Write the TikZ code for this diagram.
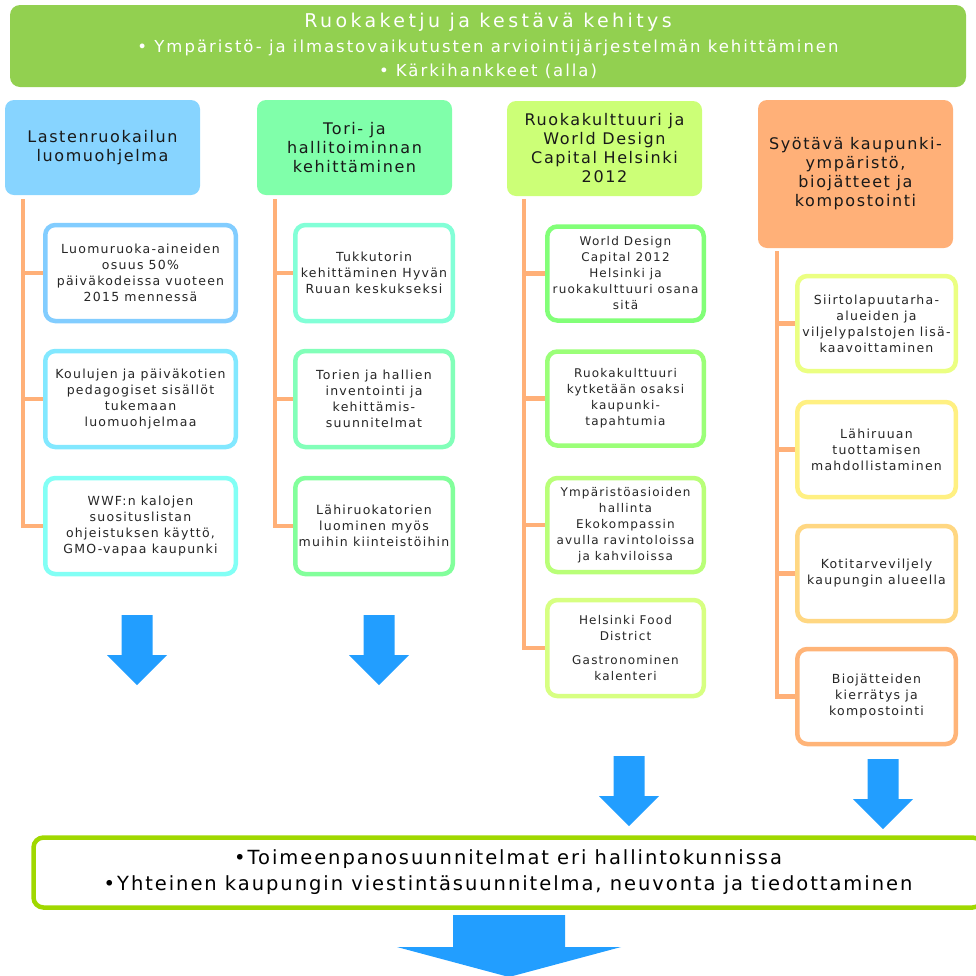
\documentclass[tikz,border=0pt]{standalone}
\usepackage{fontspec}
\setmainfont{DejaVu Sans}[LetterSpace=10]

\definecolor{topgreen}{RGB}{146,208,80}
\definecolor{headblue}{RGB}{135,212,255}
\definecolor{headmint}{RGB}{128,255,170}
\definecolor{headlime}{RGB}{204,255,119}
\definecolor{headorange}{RGB}{255,176,120}
\definecolor{lineorange}{RGB}{255,176,120}
\definecolor{arrowblue}{RGB}{34,158,255}
\definecolor{planlime}{RGB}{160,216,0}
\definecolor{c1a}{RGB}{130,205,255}
\definecolor{c1b}{RGB}{130,232,255}
\definecolor{c1c}{RGB}{130,255,245}
\definecolor{c2a}{RGB}{130,255,215}
\definecolor{c2b}{RGB}{130,255,185}
\definecolor{c2c}{RGB}{130,255,155}
\definecolor{c3a}{RGB}{130,255,120}
\definecolor{c3b}{RGB}{155,255,120}
\definecolor{c3c}{RGB}{185,255,120}
\definecolor{c3d}{RGB}{215,255,130}
\definecolor{c4a}{RGB}{235,255,130}
\definecolor{c4b}{RGB}{255,240,130}
\definecolor{c4c}{RGB}{255,215,130}
\definecolor{c4d}{RGB}{255,180,120}

\tikzset{
  head/.style={fill=#1, rounded corners=9pt, minimum width=195pt, inner sep=2pt,
    align=center, text=black!90, font=\fontsize{16}{19}\selectfont},
  item/.style={draw=#1, line width=4.5pt, fill=white, rounded corners=10pt, inner sep=2pt,
    align=center, text=black!85, font=\fontsize{12.5}{16}\selectfont},
  conn/.style={draw=lineorange, line width=4.5pt}
}

\begin{document}
\begin{tikzpicture}[x=1pt,y=-1pt]
\path[use as bounding box] (0,0) rectangle (976,975);
\clip (0,0) rectangle (976,975);

\node[fill=topgreen, rounded corners=10pt, minimum width=956pt, minimum height=82pt,
  text=white, align=center, font=\fontsize{16.5}{24.5}\selectfont] (top) at (488,46)
{{\fontsize{19}{24.5}\selectfont\addfontfeatures{LetterSpace=18}Ruokaketju ja kestävä kehitys}\\
{\addfontfeatures{LetterSpace=12}• Ympäristö- ja ilmastovaikutusten arviointijärjestelmän kehittäminen}\\
{\addfontfeatures{LetterSpace=12}• Kärkihankkeet (alla)}};

% headers
\node[head=headblue, minimum height=95pt] (h1) at (102.5,147.5) {Lastenruokailun\\luomuohjelma};
\node[head=headmint, minimum height=95pt] (h2) at (354.5,147.5) {Tori- ja\\hallitoiminnan\\kehittäminen};
\node[head=headlime, minimum height=95pt] (h3) at (604.5,148.5) {Ruokakulttuuri ja\\World Design\\Capital Helsinki\\2012};
\node[head=headorange, minimum height=148pt] (h4) at (855.5,174) {Syötävä kaupunki-\\ympäristö,\\biojätteet ja\\kompostointi};

% column 1
\node[item=c1a, minimum width=190.5pt, minimum height=96pt] (i11) at (140.5,273) {Luomuruoka-aineiden\\osuus 50\%\\päiväkodeissa vuoteen\\2015 mennessä};
\node[item=c1b, minimum width=190.5pt, minimum height=96pt] (i12) at (140.5,399) {Koulujen ja päiväkotien\\pedagogiset sisällöt\\tukemaan\\luomuohjelmaa};
\node[item=c1c, minimum width=190.5pt, minimum height=96pt] (i13) at (140.5,526) {WWF:n kalojen\\suosituslistan\\ohjeistuksen käyttö,\\GMO-vapaa kaupunki};

% column 2
\node[item=c2a, minimum width=157.5pt, minimum height=96pt] (i21) at (374,273) {Tukkutorin\\kehittäminen Hyvän\\Ruuan keskukseksi};
\node[item=c2b, minimum width=157.5pt, minimum height=96pt] (i22) at (374,399) {Torien ja hallien\\inventointi ja\\kehittämis-\\suunnitelmat};
\node[item=c2c, minimum width=157.5pt, minimum height=96pt] (i23) at (374,526) {Lähiruokatorien\\luominen myös\\muihin kiinteistöihin};

% column 3
\node[item=c3a, minimum width=156.5pt, minimum height=94pt, font=\fontsize{12}{16}\selectfont] (i31) at (625.5,273.5) {World Design\\Capital 2012\\Helsinki ja\\ruokakulttuuri osana\\sitä};
\node[item=c3b, minimum width=156.5pt, minimum height=94pt, font=\fontsize{12}{16}\selectfont] (i32) at (625.5,398.5) {Ruokakulttuuri\\kytketään osaksi\\kaupunki-\\tapahtumia};
\node[item=c3c, minimum width=156.5pt, minimum height=94pt, font=\fontsize{12}{16}\selectfont] (i33) at (625.5,525) {Ympäristöasioiden\\hallinta\\Ekokompassin\\avulla ravintoloissa\\ja kahviloissa};
\node[item=c3d, minimum width=156.5pt, minimum height=96pt, font=\fontsize{12}{16}\selectfont] (i34) at (625.5,648) {Helsinki Food\\District\\[8pt]Gastronominen\\kalenteri};

% column 4
\node[item=c4a, minimum width=158.5pt, minimum height=95pt] (i41) at (876.5,323.5) {Siirtolapuutarha-\\alueiden ja\\viljelypalstojen lisä-\\kaavoittaminen};
\node[item=c4b, minimum width=158.5pt, minimum height=95pt] (i42) at (876.5,449.5) {Lähiruuan\\tuottamisen\\mahdollistaminen};
\node[item=c4c, minimum width=158.5pt, minimum height=95pt] (i43) at (876.5,573.5) {Kotitarveviljely\\kaupungin alueella};
\node[item=c4d, minimum width=158.5pt, minimum height=95pt] (i44) at (876.5,696.5) {Biojätteiden\\kierrätys ja\\kompostointi};

\coordinate (t1) at (23,199);
\coordinate (t2) at (275,199);
\coordinate (t3) at (524,199);
\coordinate (t4) at (777,251);
\foreach \i in {1,2,3}{
  \draw[conn] (t1) |- (i1\i.west);
  \draw[conn] (t2) |- (i2\i.west);
}
\foreach \i in {1,...,4}{
  \draw[conn] (t3) |- (i3\i.west);
  \draw[conn] (t4) |- (i4\i.west);
}

% arrows
\foreach \x/\y in {137/615, 379/615, 629/756, 883/759}
  \fill[arrowblue] (\x-15.5,\y) -- (\x+15.5,\y) -- (\x+15.5,\y+40) -- (\x+30,\y+40)
    -- (\x,\y+70) -- (\x-30,\y+40) -- (\x-15.5,\y+40) -- cycle;

\node[draw=planlime, line width=4.5pt, fill=white, rounded corners=10pt, minimum width=949pt,
  minimum height=70pt, align=center, font=\fontsize{19.5}{26}\selectfont] (plan) at (508,872.5)
{•Toimeenpanosuunnitelmat eri hallintokunnissa\\•Yhteinen kaupungin viestintäsuunnitelma, neuvonta ja tiedottaminen};

\fill[arrowblue] (453,915) -- (565,915) -- (565,947) -- (621,947) -- (509,977)
  -- (397,947) -- (453,947) -- cycle;

\end{tikzpicture}
\end{document}
